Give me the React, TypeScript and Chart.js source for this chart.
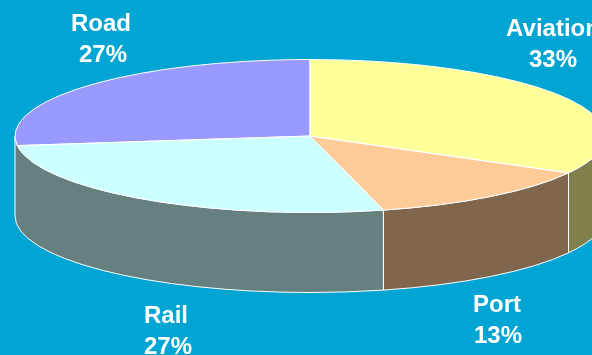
import { useEffect, useRef } from "react";
import { Chart, ArcElement, PieController } from "chart.js";

Chart.register(ArcElement, PieController);

const categories = ["Aviation", "Port", "Rail", "Road"];
const shares = [33, 13, 27, 27];
const topColors = ["#FFFF99", "#FFCC99", "#CCFFFF", "#9999FF"];
const sideColors = ["#80804D", "#80664D", "#668080", "#668080"];

const BACKGROUND = "#00A5D3";
const CANVAS_W = 620;
const CANVAS_H = 355;
const RADIUS_X = 295;
const RADIUS_Y = 76.5;
const CENTER_X = 310;
const CENTER_Y = 136;
const DEPTH = 80;
// A rim piece narrower than this is folded into the piece before it.
const MIN_RIM_SPAN = 0.2;

// Label placement per slice: centre x and the baselines of the two lines.
const labelPlaces = [
  { name: [553, 36], value: [553, 67] },
  { name: [497, 312], value: [498, 343] },
  { name: [166, 323], value: [168, 354] },
  { name: [101, 31], value: [103, 62] },
];

const tiltedPie = {
  id: "tiltedPie",
  // The rim goes underneath the top faces; only the half facing the viewer shows.
  beforeDatasetsDraw(chart: any) {
    const { ctx } = chart;
    const pieces: { from: number; to: number; color: string }[] = [];
    chart.getDatasetMeta(0).data.forEach((arc: any, i: number) => {
      const from = Math.max(arc.startAngle, 0);
      const to = Math.min(arc.endAngle, Math.PI);
      if (to <= from) return;
      if (to - from < MIN_RIM_SPAN && pieces.length) {
        pieces[pieces.length - 1].to = to;
      } else {
        pieces.push({ from, to, color: sideColors[i] });
      }
    });
    pieces.forEach(({ from, to, color }) => {
      ctx.save();
      ctx.beginPath();
      ctx.ellipse(CENTER_X, CENTER_Y, RADIUS_X, RADIUS_Y, 0, from, to);
      ctx.ellipse(CENTER_X, CENTER_Y + DEPTH, RADIUS_X, RADIUS_Y, 0, to, from, true);
      ctx.closePath();
      ctx.fillStyle = color;
      ctx.fill();
      ctx.strokeStyle = "#FFFFFF";
      ctx.lineWidth = 1;
      ctx.stroke();
      ctx.restore();
    });
  },
  // Squash the round pie into an ellipse around the tilted centre.
  beforeDatasetDraw(chart: any) {
    const { ctx } = chart;
    const arc = chart.getDatasetMeta(0).data[0];
    ctx.save();
    ctx.translate(CENTER_X, CENTER_Y);
    ctx.scale(RADIUS_X / arc.outerRadius, RADIUS_Y / arc.outerRadius);
    ctx.translate(-arc.x, -arc.y);
  },
  afterDatasetDraw(chart: any) {
    const { ctx } = chart;
    ctx.restore();
    // Outlines are stroked unscaled so they keep an even one-pixel width.
    chart.getDatasetMeta(0).data.forEach((arc: any) => {
      ctx.save();
      ctx.beginPath();
      ctx.moveTo(CENTER_X, CENTER_Y);
      ctx.ellipse(CENTER_X, CENTER_Y, RADIUS_X, RADIUS_Y, 0, arc.startAngle, arc.endAngle);
      ctx.closePath();
      ctx.strokeStyle = "#FFFFFF";
      ctx.lineWidth = 1;
      ctx.stroke();
      ctx.restore();
    });
  },
  afterDraw(chart: any) {
    const { ctx } = chart;
    ctx.save();
    ctx.font = "bold 24px 'Liberation Sans', Arial, sans-serif";
    ctx.fillStyle = "#FFFFFF";
    ctx.textAlign = "center";
    ctx.textBaseline = "alphabetic";
    categories.forEach((name, i) => {
      const place = labelPlaces[i];
      ctx.fillText(name, place.name[0], place.name[1]);
      ctx.fillText(`${shares[i]}%`, place.value[0], place.value[1]);
    });
    ctx.restore();
  },
};

export default function App() {
  const canvasRef = useRef<HTMLCanvasElement>(null);

  useEffect(() => {
    document.body.style.margin = "0";
    document.body.style.background = BACKGROUND;
    const chart = new Chart(canvasRef.current!, {
      type: "pie",
      data: {
        labels: categories,
        datasets: [{ data: shares, backgroundColor: topColors, borderWidth: 0 }],
      },
      options: {
        responsive: false,
        animation: false,
        radius: RADIUS_X,
        rotation: 0,
        layout: { padding: 0 },
        plugins: { legend: { display: false }, tooltip: { enabled: false } },
      } as any,
      plugins: [tiltedPie],
    });
    return () => chart.destroy();
  }, []);

  return (
    <div style={{ width: 592, height: 355, overflow: "hidden", background: BACKGROUND }}>
      <canvas ref={canvasRef} width={CANVAS_W} height={CANVAS_H} style={{ display: "block" }} />
    </div>
  );
}
